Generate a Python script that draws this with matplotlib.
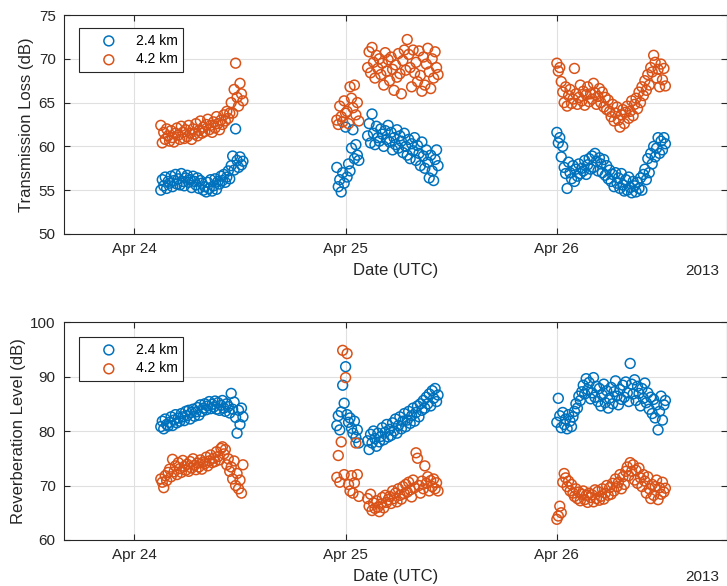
import numpy as np
import matplotlib
matplotlib.use("Agg")
import matplotlib.pyplot as plt
import matplotlib.dates as mdates

plt.rcParams['font.family'] = ['Liberation Sans', 'DejaVu Sans']

# MATLAB default line colours
blue = '#0072BD'
orange = '#D95319'
axis_grey = '#262626'

# start of the record
t0 = np.datetime64('2013-04-24T00:00')

# recording windows in minutes after t0 (first, last), one ping every 10 min
windows = [(180, 740), (1380, 1530), (1590, 2070), (2880, 3620)]
step_min = 10

# ---- transmission loss (dB), 2.4 km ----
tl_24_a = [55.0, 56.2, 55.5, 56.5, 55.2, 56.0,
           55.8, 56.6, 55.4, 56.1, 56.8, 55.7,
           56.3, 55.6, 56.9, 56.0, 55.5, 56.4,
           56.7, 55.9, 56.2, 55.3, 56.6, 56.0,
           55.6, 56.4, 55.2, 56.1, 55.8, 55.0,
           55.4, 54.8, 55.9, 55.2, 56.2, 54.9,
           55.5, 56.3, 55.1, 56.0, 55.7, 56.6,
           56.1, 56.8, 55.9, 56.5, 57.2, 56.3,
           57.8, 58.9, 57.3, 62.0, 58.4, 57.6,
           58.8, 57.9, 58.3]
tl_24_b = [57.6, 55.4, 56.2, 54.8, 57.0, 55.8, 62.2, 56.5,
           58.0, 57.2, 59.8, 61.9, 58.6, 60.2, 59.0, 58.4]
tl_24_c = [61.2, 62.6, 60.4,
           63.7, 61.5, 60.2, 62.3, 61.0, 60.6,
           62.0, 61.4, 60.0, 61.8, 60.8, 62.4,
           60.5, 61.6, 59.6, 61.0, 60.2, 61.9,
           59.8, 61.2, 60.6, 59.3, 61.5, 60.0,
           59.0, 60.8, 58.6, 60.3, 59.5, 61.0,
           58.4, 60.1, 59.2, 57.8, 60.5, 58.9,
           57.5, 59.6, 58.2, 56.4, 59.0, 57.2,
           56.1, 58.5, 59.6, 57.8]
tl_24_d = [61.6, 60.4, 61.0, 58.8, 60.0, 57.6,
           56.9, 55.2, 58.2, 57.0, 56.3, 57.8,
           56.0, 57.4, 56.6, 58.0, 56.9, 57.5,
           57.2, 58.4, 56.8, 57.9, 58.6, 57.4,
           58.9, 57.6, 59.2, 58.3, 57.2, 58.7,
           58.0, 57.0, 58.5, 56.7, 57.8, 56.3,
           57.3, 56.0, 56.8, 55.4, 57.0, 55.8,
           56.4, 55.2, 56.9, 55.6, 54.9, 56.2,
           55.0, 56.5, 55.3, 54.7, 56.0, 55.5,
           54.8, 55.9, 55.2, 56.4, 55.0, 56.8,
           57.4, 56.2, 58.6, 57.0, 59.2, 58.0,
           60.0, 58.8, 59.8, 61.0, 59.2, 60.6,
           59.6, 61.0, 60.3]

# ---- transmission loss (dB), 4.2 km ----
tl_42_a = [62.4, 60.4, 61.6, 60.8, 62.0, 61.2,
           60.6, 61.8, 61.0, 60.5, 61.5, 62.1,
           61.3, 60.8, 62.3, 61.6, 60.9, 61.9,
           61.1, 62.4, 61.5, 60.8, 62.0, 61.4,
           62.6, 61.2, 61.8, 62.9, 61.5, 62.2,
           61.7, 62.5, 63.1, 61.9, 62.4, 61.6,
           62.8, 62.1, 63.4, 62.6, 61.9, 63.0,
           62.5, 63.6, 62.9, 64.0, 63.2, 63.8,
           65.0, 63.8, 66.5, 69.5, 65.6, 64.6,
           67.2, 66.0, 65.2]
tl_42_b = [63.0, 62.5, 64.6, 63.4, 62.8, 65.2, 63.8, 64.0,
           62.6, 66.8, 65.5, 64.4, 67.0, 63.6, 65.0, 62.9]
tl_42_c = [69.0, 70.8, 68.4,
           71.3, 69.6, 67.8, 70.4, 68.9, 70.0,
           68.2, 69.5, 67.0, 70.7, 68.6, 69.9,
           67.5, 70.2, 68.8, 66.4, 69.3, 67.9,
           70.6, 68.3, 66.0, 69.8, 71.0, 68.7,
           72.2, 70.5, 69.0, 66.8, 71.0, 68.4,
           69.6, 67.4, 70.9, 68.1, 66.3, 70.2,
           67.0, 69.4, 71.2, 68.5, 66.6, 70.0,
           67.8, 70.8, 69.0, 68.2]
tl_42_d = [69.5, 68.6, 69.0, 67.4, 66.2, 65.0,
           66.8, 64.6, 65.8, 66.5, 64.9, 65.4,
           68.9, 66.0, 64.8, 65.6, 67.0, 65.2,
           66.3, 64.7, 65.9, 66.8, 65.1, 66.0,
           65.4, 67.2, 66.1, 64.8, 65.7, 66.6,
           65.0, 66.2, 64.5, 65.6, 64.2, 65.3,
           64.0, 63.4, 64.8, 62.9, 63.8, 64.5,
           63.0, 62.2, 63.6, 64.2, 62.6, 63.9,
           64.6, 63.2, 64.0, 65.2, 63.5, 64.8,
           65.5, 64.3, 66.2, 65.0, 66.8, 65.8,
           67.5, 66.4, 68.2, 67.0, 69.0, 68.5,
           70.4, 69.6, 67.8, 68.8, 66.8, 69.4,
           67.6, 68.9, 66.9]

# ---- reverberation level (dB), 2.4 km ----
rl_24_a = [80.8, 81.8, 80.4, 82.2, 81.2, 80.9,
           81.6, 82.6, 81.0, 82.0, 83.0, 81.5,
           82.4, 81.8, 83.2, 82.6, 81.9, 83.6,
           82.8, 83.8, 82.2, 83.4, 84.0, 82.7,
           83.5, 84.3, 82.9, 84.8, 83.6, 84.2,
           85.0, 83.9, 84.6, 85.4, 84.1, 84.9,
           84.4, 85.5, 84.0, 85.2, 83.8, 84.7,
           85.6, 84.2, 83.6, 85.0, 84.5, 83.3,
           86.9, 84.0, 85.3, 82.5, 79.6, 83.8,
           81.2, 84.2, 82.6]
rl_24_b = [81.0, 82.8, 80.2, 83.5, 88.4, 85.1, 91.8, 83.0,
           81.6, 82.4, 80.5, 79.6, 81.8, 78.8, 80.2, 77.8]
rl_24_c = [78.2, 76.6, 79.4,
           77.8, 80.0, 78.6, 77.2, 79.6, 78.0,
           79.0, 80.6, 78.4, 79.8, 81.2, 78.9,
           80.3, 79.2, 81.5, 80.0, 82.2, 79.6,
           81.0, 82.6, 80.4, 81.8, 83.2, 80.8,
           82.0, 83.6, 81.4, 82.8, 84.2, 81.8,
           83.4, 84.6, 82.6, 85.0, 83.8, 85.6,
           84.2, 86.2, 85.0, 86.8, 84.6, 87.4,
           86.0, 87.8, 85.4, 86.6]
rl_24_d = [81.6, 86.0, 82.8, 80.6, 83.4, 81.2,
           82.2, 80.4, 83.0, 81.8, 80.8, 82.6,
           83.6, 85.0, 84.2, 86.4, 85.6, 87.2,
           88.4, 86.8, 89.6, 87.6, 88.9, 85.9,
           87.0, 89.8, 86.2, 88.2, 85.4, 87.8,
           84.6, 86.6, 88.6, 85.2, 87.4, 84.2,
           86.0, 88.0, 85.0, 87.2, 89.2, 86.4,
           84.8, 87.6, 85.8, 88.4, 86.2, 89.0,
           87.0, 85.4, 92.4, 88.6, 86.8, 89.4,
           85.6, 88.2, 86.9, 84.6, 87.8, 86.0,
           88.8, 85.2, 87.0, 84.0, 86.2, 83.2,
           85.8, 82.4, 84.8, 80.2, 83.6, 86.4,
           82.0, 84.8, 85.6]

# ---- reverberation level (dB), 4.2 km ----
rl_42_a = [71.2, 70.6, 69.6, 71.8, 70.9, 72.4,
           73.0, 71.6, 74.8, 72.5, 73.6, 72.0,
           74.2, 73.1, 72.4, 74.6, 73.5, 72.8,
           73.9, 72.6, 74.4, 73.2, 74.9, 73.7,
           72.9, 74.1, 73.4, 74.7, 73.0, 74.3,
           74.0, 75.2, 73.6, 74.5, 75.6, 74.2,
           75.0, 74.4, 76.2, 75.3, 74.7, 76.8,
           77.1, 75.8, 76.6, 73.8, 74.9, 72.6,
           73.4, 71.2, 74.5, 70.0, 72.2, 69.4,
           71.0, 68.6, 73.8]
rl_42_b = [71.5, 75.5, 70.6, 78.0, 94.8, 72.0, 89.8, 94.2,
           70.2, 69.0, 71.8, 68.6, 70.5, 77.8, 72.0, 68.0]
rl_42_c = [67.6, 66.2, 68.4,
           65.4, 66.8, 65.8, 67.2, 66.0, 65.2,
           66.6, 67.8, 65.9, 68.2, 66.9, 67.4,
           68.0, 66.7, 69.0, 67.6, 68.6, 67.0,
           69.4, 68.2, 67.5, 69.8, 68.5, 70.2,
           68.8, 70.6, 69.2, 67.9, 71.0, 69.6,
           76.0, 75.0, 70.0, 68.6, 70.8, 69.4,
           73.6, 70.4, 71.6, 69.0, 70.9, 69.8,
           71.2, 69.4, 70.5, 69.0]
rl_42_d = [63.8, 64.4, 66.2, 65.0, 70.6, 72.2,
           71.4, 69.8, 70.8, 69.0, 70.2, 68.6,
           68.0, 69.4, 67.6, 68.8, 67.2, 68.4,
           69.0, 67.4, 68.2, 66.9, 68.6, 67.8,
           68.3, 67.0, 69.2, 67.6, 68.9, 67.3,
           68.0, 69.4, 67.5, 68.6, 70.0, 68.2,
           69.6, 68.4, 70.4, 69.0, 71.2, 69.8,
           70.6, 72.0, 69.4, 71.6, 70.2, 72.6,
           73.4, 71.8, 74.2, 72.6, 73.8, 71.0,
           72.8, 70.4, 73.2, 71.4, 69.8, 72.0,
           70.8, 68.6, 71.6, 69.4, 67.6, 70.2,
           68.2, 69.8, 71.0, 67.4, 69.6, 68.4,
           70.6, 68.8, 69.5]


def ping_times():
    """datetime64 of every ping in the recording windows"""
    mins = np.concatenate([np.arange(a, b + 1, step_min) for a, b in windows])
    return t0 + mins.astype('timedelta64[m]')


times = ping_times()

tl_24 = tl_24_a + tl_24_b + tl_24_c + tl_24_d
tl_42 = tl_42_a + tl_42_b + tl_42_c + tl_42_d
rl_24 = rl_24_a + rl_24_b + rl_24_c + rl_24_d
rl_42 = rl_42_a + rl_42_b + rl_42_c + rl_42_d

fig = plt.figure(figsize=(7.27, 5.86), dpi=100)
ax_tl = fig.add_axes([0.088, 0.6007, 0.912, 0.3737])
ax_rl = fig.add_axes([0.088, 0.0785, 0.912, 0.372])

panels = [(ax_tl, tl_24, tl_42, 'Transmission Loss (dB)', (50, 75), 5, 0.9406),
          (ax_rl, rl_24, rl_42, 'Reverberation Level (dB)', (60, 100), 10, 0.931)]

x_lo = t0 - np.timedelta64(8 * 60, 'm')
x_hi = t0 + np.timedelta64(67 * 60 + 20, 'm')

for ax, near, far, ylabel, ylim, ystep, leg_top in panels:
    ax.scatter(times, near, s=50, facecolors='none', edgecolors=blue,
               linewidths=1.1, label='2.4 km', zorder=3)
    ax.scatter(times, far, s=50, facecolors='none', edgecolors=orange,
               linewidths=1.1, label='4.2 km', zorder=3)

    ax.set_xlim(x_lo, x_hi)
    ax.set_ylim(*ylim)
    ax.set_yticks(np.arange(ylim[0], ylim[1] + 1, ystep))
    ax.xaxis.set_major_locator(mdates.DayLocator())
    ax.xaxis.set_major_formatter(mdates.DateFormatter('%b %d'))

    ax.grid(True, color='#e0e0e0', linewidth=0.8)
    ax.set_axisbelow(True)
    for sp in ax.spines.values():
        sp.set_color(axis_grey)
        sp.set_linewidth(0.8)
    ax.tick_params(direction='in', length=4, width=0.8, top=True, right=True,
                   colors=axis_grey, labelsize=11, pad=6)

    ax.set_ylabel(ylabel, fontsize=12, color=axis_grey, labelpad=3)
    ax.set_xlabel('Date (UTC)', fontsize=12, color=axis_grey, labelpad=5)
    ax.annotate('2013', xy=(0.989, 0), xycoords='axes fraction',
                xytext=(0, -37), textcoords='offset pixels',
                ha='right', va='center', fontsize=11, color=axis_grey)

    leg = ax.legend(loc='upper left', bbox_to_anchor=(0.0226, leg_top),
                    borderaxespad=0, scatterpoints=1, fontsize=10,
                    fancybox=False, framealpha=1, edgecolor=axis_grey,
                    handlelength=3.5, handletextpad=0.2, labelspacing=0.35,
                    borderpad=0.4)
    leg.get_frame().set_linewidth(0.8)

fig.savefig('out.png', dpi=100)
